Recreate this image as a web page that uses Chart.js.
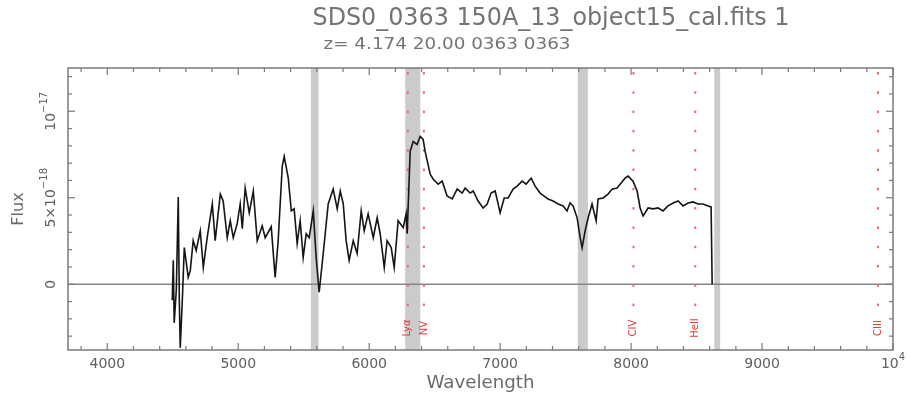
<!DOCTYPE html>
<html>
<head>
<meta charset="utf-8">
<script src="https://cdn.jsdelivr.net/npm/chart.js@4.4.1/dist/chart.umd.min.js"></script>
<style>
  html, body { margin: 0; padding: 0; background: #fff; }
  #wrap { width: 907px; height: 397px; }
</style>
</head>
<body>
<div id="wrap"><canvas id="spec" width="907" height="397"></canvas></div>
<script>
// calibrated spectrum, flux in units of 1e-18
var wavelength = [
  4496, 4504, 4511, 4527, 4542, 4550, 4557, 4573, 4588, 4618,
  4634, 4656, 4679, 4710, 4733, 4763, 4802, 4824, 4863, 4885,
  4916, 4939, 4962, 4992, 5015, 5031, 5053, 5084, 5115, 5145,
  5183, 5206, 5252, 5282, 5305, 5336, 5351, 5382, 5405, 5427,
  5450, 5473, 5496, 5519, 5542, 5573, 5595, 5618, 5649, 5687,
  5725, 5756, 5779, 5802, 5824, 5847, 5878, 5908, 5939, 5962,
  5992, 6031, 6061, 6084, 6115, 6137, 6168, 6191, 6221, 6260,
  6282, 6290, 6313, 6336, 6366, 6389, 6412, 6427, 6466, 6489,
  6527, 6557, 6595, 6634, 6672, 6710, 6733, 6771, 6794, 6832,
  6870, 6901, 6931, 6962, 7000, 7031, 7061, 7099, 7130, 7168,
  7198, 7237, 7267, 7305, 7336, 7366, 7405, 7443, 7481, 7511,
  7534, 7557, 7588, 7611, 7626, 7649, 7672, 7702, 7733, 7748,
  7786, 7824, 7855, 7893, 7924, 7954, 7977, 8015, 8046, 8069,
  8092, 8130, 8168, 8206, 8244, 8282, 8321, 8359, 8397, 8435,
  8473, 8511, 8550, 8588, 8611, 8619
];
var flux = [
  -0.92, 1.38, -2.23, -0.34, 5.04, -0.92, -3.67, -0.92, 2.12, 0.40,
  0.80, 2.52, 1.95, 3.09, 0.97, 2.69, 4.64, 2.52, 5.21, 4.81,
  2.69, 3.67, 2.69, 3.50, 4.64, 3.21, 5.56, 4.13, 5.39, 2.52,
  3.38, 2.69, 3.32, 0.40, 2.52, 6.82, 7.39, 6.13, 4.24, 4.36,
  2.35, 3.67, 1.55, 2.92, 2.69, 4.24, 1.55, -0.46, 1.78, 4.64,
  5.50, 4.36, 5.39, 4.64, 2.52, 1.38, 2.52, 1.78, 4.24, 3.09,
  4.07, 2.69, 3.84, 2.92, 0.97, 2.52, 2.12, 0.97, 3.67, 3.27,
  4.07, 2.92, 7.68, 8.25, 8.08, 8.54, 8.37, 7.68, 6.36, 6.07,
  5.79, 5.96, 5.10, 4.93, 5.50, 5.27, 5.56, 5.27, 5.39, 4.81,
  4.41, 4.64, 5.27, 5.39, 4.13, 4.99, 4.99, 5.50, 5.67, 5.96,
  5.79, 6.13, 5.67, 5.27, 5.10, 4.93, 4.81, 4.64, 4.53, 4.24,
  4.70, 4.53, 3.84, 2.69, 2.12, 3.09, 3.84, 4.64, 3.67, 4.93,
  4.99, 5.21, 5.50, 5.56, 5.85, 6.13, 6.25, 5.96, 5.39, 4.41,
  3.95, 4.41, 4.36, 4.41, 4.24, 4.53, 4.70, 4.81, 4.53, 4.70,
  4.76, 4.64, 4.64, 4.53, 4.47, 0
];

// masked sky regions
var maskStart = [5555, 6275, 7593, 8635];
var maskEnd   = [5613, 6390, 7670, 8680];

// expected emission lines at z = 4.174
var lineNames = ['Lyα', 'NV', 'CIV', 'HeII', 'CIII'];
var lineWave  = [6295, 6418, 8018, 8490, 9885];

var xTicks = [4000, 5000, 6000, 7000, 8000, 9000, 10000];
var xTickLabels = ['4000', '5000', '6000', '7000', '8000', '9000', '10^4'];
var yTicks = [0, 5, 10];
var yTickLabels = ['0', '5×10^−18', '10^−17'];

var titleText = 'SDS0_0363 150A_13_object15_cal.fits 1';
var subtitleText = 'z= 4.174 20.00 0363 0363';

var FONT = '"DejaVu Sans", sans-serif';

// draw a label centred on the origin, part after '^' as superscript
function supText(ctx, label, size) {
  var parts = label.split('^');
  var base = parts[0], sup = parts[1] || '';
  var supSize = Math.round(size * 0.72);
  ctx.font = size + 'px ' + FONT;
  var wb = ctx.measureText(base).width;
  ctx.font = supSize + 'px ' + FONT;
  var ws = sup ? ctx.measureText(sup).width : 0;
  var x0 = -(wb + ws) / 2;
  ctx.textAlign = 'left';
  ctx.textBaseline = 'middle';
  ctx.font = size + 'px ' + FONT;
  ctx.fillText(base, x0, 0);
  if (sup) {
    ctx.font = supSize + 'px ' + FONT;
    ctx.fillText(sup, x0 + wb, -size * 0.48);
  }
}

// text squeezed/stretched to a given width
function fitText(ctx, text, cx, cy, size, width) {
  ctx.save();
  ctx.font = size + 'px ' + FONT;
  var w = ctx.measureText(text).width;
  ctx.translate(cx, cy);
  ctx.scale(width / w, 1);
  ctx.textAlign = 'center';
  ctx.textBaseline = 'middle';
  ctx.fillText(text, 0, 0);
  ctx.restore();
}

function seg(ctx, x0, y0, x1, y1) {
  ctx.beginPath();
  ctx.moveTo(x0, y0);
  ctx.lineTo(x1, y1);
  ctx.stroke();
}

var idlAxes = {
  id: 'idlAxes',
  beforeDatasetsDraw: function(chart) {
    var ctx = chart.ctx, a = chart.chartArea;
    var xs = chart.scales.x, ys = chart.scales.y;
    ctx.save();

    ctx.fillStyle = '#cbcbcb';
    for (var i = 0; i < maskStart.length; i++) {
      var x0 = xs.getPixelForValue(maskStart[i]);
      var x1 = xs.getPixelForValue(maskEnd[i]);
      ctx.fillRect(x0, a.top, x1 - x0, a.bottom - a.top);
    }

    // zero level
    ctx.strokeStyle = '#858585';
    ctx.lineWidth = 1.6;
    var yz = ys.getPixelForValue(0);
    seg(ctx, a.left, yz, a.right, yz);

    // line markers, dotted, with rotated names
    lineWave.forEach(function(w, i) {
      var px = xs.getPixelForValue(w);
      ctx.fillStyle = '#f06a6a';
      for (var py = a.top + 4; py < a.bottom - 42; py += 19.3) {
        ctx.fillRect(px - 1, py, 2, 2.5);
      }
      ctx.save();
      ctx.fillStyle = '#e33b3b';
      ctx.translate(px, a.bottom - 22);
      ctx.rotate(-Math.PI / 2);
      ctx.font = '10px ' + FONT;
      ctx.textAlign = 'center';
      ctx.textBaseline = 'middle';
      ctx.fillText(lineNames[i], 0, 0);
      ctx.restore();
    });
    ctx.restore();
  },
  afterDatasetsDraw: function(chart) {
    var ctx = chart.ctx, a = chart.chartArea;
    var xs = chart.scales.x, ys = chart.scales.y;
    ctx.save();
    ctx.strokeStyle = '#7a7a7a';
    ctx.lineWidth = 1.5;
    ctx.strokeRect(a.left, a.top, a.right - a.left, a.bottom - a.top);

    ctx.lineWidth = 1.2;
    var v, p, len;
    for (v = 3800; v <= 10000; v += 200) {
      p = xs.getPixelForValue(v);
      len = (v % 1000 === 0) ? 7 : 4;
      seg(ctx, p, a.bottom, p, a.bottom - len);
      seg(ctx, p, a.top, p, a.top + len);
    }
    for (v = -3; v <= 12; v += 1) {
      p = ys.getPixelForValue(v);
      len = (v % 5 === 0) ? 7 : 4;
      seg(ctx, a.left, p, a.left + len, p);
      seg(ctx, a.right, p, a.right - len, p);
    }

    ctx.fillStyle = '#5e5e5e';
    xTicks.forEach(function(t, i) {
      ctx.save();
      ctx.translate(xs.getPixelForValue(t), a.bottom + 14);
      supText(ctx, xTickLabels[i], 14);
      ctx.restore();
    });
    yTicks.forEach(function(t, i) {
      ctx.save();
      ctx.translate(a.left - 17, ys.getPixelForValue(t));
      ctx.rotate(-Math.PI / 2);
      supText(ctx, yTickLabels[i], 14);
      ctx.restore();
    });
    ctx.restore();
  },
  afterDraw: function(chart) {
    var ctx = chart.ctx, a = chart.chartArea;
    ctx.save();
    ctx.fillStyle = '#747474';
    fitText(ctx, titleText, 551, 19, 24, 477);
    fitText(ctx, subtitleText, 447, 45, 16, 247);
    ctx.fillStyle = '#6a6a6a';
    fitText(ctx, 'Wavelength', (a.left + a.right) / 2, 384, 17, 108);
    ctx.save();
    ctx.translate(19, (a.top + a.bottom) / 2);
    ctx.rotate(-Math.PI / 2);
    ctx.font = '16px ' + FONT;
    ctx.textAlign = 'center';
    ctx.textBaseline = 'middle';
    ctx.fillText('Flux', 0, 0);
    ctx.restore();
    ctx.restore();
  }
};

var points = wavelength.map(function(w, i) { return { x: w, y: flux[i] }; });

new Chart(document.getElementById('spec'), {
  type: 'line',
  data: {
    datasets: [{
      data: points,
      borderColor: '#151515',
      borderWidth: 1.6,
      pointRadius: 0,
      tension: 0,
      fill: false
    }]
  },
  options: {
    responsive: false,
    animation: false,
    layout: { padding: { left: 68, right: 14, top: 68, bottom: 47 } },
    plugins: { legend: { display: false }, tooltip: { enabled: false } },
    scales: {
      x: { type: 'linear', min: 3700, max: 10000, display: false },
      y: { type: 'linear', min: -3.8, max: 12.5, display: false }
    }
  },
  plugins: [idlAxes]
});
</script>
</body>
</html>
